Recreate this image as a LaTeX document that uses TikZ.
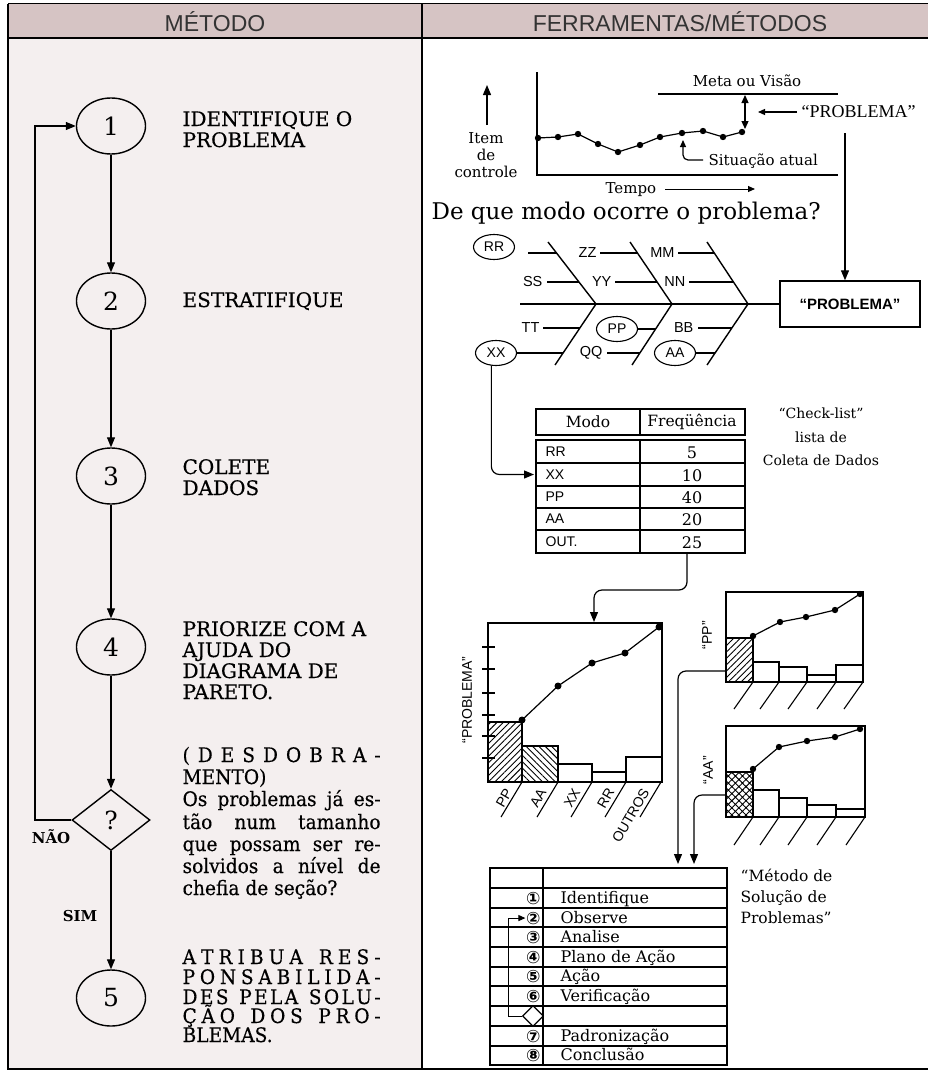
\documentclass[tikz,border=0pt]{standalone}
\usepackage{fontspec}
\setmainfont{DejaVu Serif}
\newfontfamily\sansf{Liberation Sans}
\newfontfamily\timesf{Liberation Serif}
\newfontfamily\dvs{DejaVu Sans}
\newfontfamily\lfont[FakeBold=0.4]{DejaVu Serif}
\newfontfamily\lpfont[FakeBold=0.4,FakeStretch=0.93]{DejaVu Serif}
\usetikzlibrary{arrows.meta,patterns,patterns.meta,shapes.geometric}
\definecolor{hdr}{RGB}{214,196,196}
\definecolor{lbg}{RGB}{244,239,239}
\makeatletter
\newcommand\spreadw[2]{\makebox[#1][s]{\sp@r#2\@nil}}
\def\sp@r#1#2\@nil{#1\if\relax\detokenize{#2}\relax\else\hfil\sp@r#2\@nil\fi}
\makeatother
\newcommand\fs[1]{\fontsize{#1}{#1}\selectfont}
\begin{document}
\begin{tikzpicture}[x=1pt,y=-1pt,line width=1.2pt,
  every node/.style={inner sep=0pt},
  >={Triangle[length=10pt,width=8pt]},
  stepc/.style={ellipse,draw,line width=1.4pt,minimum width=69pt,minimum height=56pt,font=\fs{25}},
  lt/.style={anchor=base west,font=\lfont\fs{20}},
  lp/.style={anchor=base west,font=\lpfont\fs{20}},
  fbl/.style={anchor=east,font=\sansf\fs{14.5}},
  fbc/.style={ellipse,draw,line width=1.1pt,minimum width=41pt,minimum height=25pt,font=\sansf\fs{14}},
  cs/.style={font=\fs{15}},
  tb/.style={line width=1.4pt},
  smallarr/.style={-{Triangle[length=7pt,width=6pt]}},
  plab/.style={anchor=east,rotate=60,font=\sansf\fs{14}},
  ylab/.style={rotate=90,font=\sansf\fs{14}},
  slant/.style={line width=1.1pt}
]
\path[use as bounding box] (0,0) rectangle (928,1073);
\fill[white] (0,0) rectangle (928,1073);
\fill[lbg] (8,38) rectangle (422,1069);
\fill[hdr] (8,4) rectangle (928,38);
\draw[line width=1pt] (8,4) -- (928,4);
\draw[line width=1.8pt] (8,38) -- (928,38);
\draw[line width=1.2pt] (8,4) -- (8,1069) -- (928,1069);
\draw[line width=1.4pt] (422,4) -- (422,1069);
\node[font=\sansf\fs{23},text=black!80] (hm) at (215,22) {MÉTODO};
\node[font=\sansf\fs{23},text=black!80] (hf) at (680,22) {FERRAMENTAS/MÉTODOS};

% ---------------- left column
\node[stepc] (c1) at (111,126) {1};
\node[stepc] (c2) at (111,301) {2};
\node[stepc] (c3) at (111,476) {3};
\node[stepc] (c4) at (111,647) {4};
\node[diamond,draw,line width=1.4pt,minimum width=78pt,minimum height=61pt,font=\fs{25}] (dq) at (111,820) {?};
\node[stepc] (c5) at (111,998) {5};
\draw[->] (c1) -- (c2);
\draw[->] (c2) -- (c3);
\draw[->] (c3) -- (c4);
\draw[->] (c4) -- (dq);
\draw[->] (dq) -- (c5);
\coordinate (fbk) at (35,820);
\draw[->] (dq.west) -- (fbk) |- (c1.west);
\node[font=\bfseries\fs{15}] (nao) at (51,837) {NÃO};
\node[font=\bfseries\fs{15}] (sim) at (80,916) {SIM};

\node[lt] (t1a) at (182,126) {IDENTIFIQUE O};
\node[lt] (t1b) at (182,147) {PROBLEMA};
\node[lt] (t2) at (182,307) {ESTRATIFIQUE};
\node[lt] (t3a) at (182,474) {COLETE};
\node[lt] (t3b) at (182,495) {DADOS};
\node[lt] (t4a) at (182,636) {PRIORIZE COM A};
\node[lt] (t4b) at (182,657) {AJUDA DO};
\node[lt] (t4c) at (182,678) {DIAGRAMA DE};
\node[lt] (t4d) at (182,699) {PARETO.};
\node[lp] (t5a) at (182,762) {\spreadw{198pt}{(DESDOBRA-}};
\node[lp] (t5b) at (182,784) {MENTO)};
\node[lp] (t5c) at (182,806) {\makebox[198pt][s]{Os problemas já es-}};
\node[lp] (t5d) at (182,829) {\makebox[198pt][s]{tão num tamanho}};
\node[lp] (t5e) at (182,851) {\makebox[198pt][s]{que possam ser re-}};
\node[lp] (t5f) at (182,873) {\makebox[198pt][s]{solvidos a nível de}};
\node[lp] (t5g) at (182,895) {chefia de seção?};
\node[lp] (t6a) at (182,964) {\spreadw{198pt}{ATRIBUA~RES-}};
\node[lp] (t6b) at (182,984) {\spreadw{198pt}{PONSABILIDA-}};
\node[lp] (t6c) at (182,1004) {\spreadw{198pt}{DES~PELA~SOLU-}};
\node[lp] (t6d) at (182,1023) {\spreadw{198pt}{ÇÃO~DOS~PRO-}};
\node[lp] (t6e) at (182,1042) {BLEMAS.};

% ---------------- control chart
\coordinate (ya0) at (537,72);
\coordinate (orig) at (537,175);
\coordinate (xa1) at (838,175);
\draw (ya0) -- (orig) -- (xa1);
\coordinate (up0) at (487,125);
\coordinate (up1) at (487,85);
\draw[->] (up0) -- (up1);
\node[cs,anchor=base] (it1) at (486,143) {Item};
\node[cs,anchor=base] (it2) at (486,160) {de};
\node[cs,anchor=base] (it3) at (486,177) {controle};
\coordinate (m0) at (658,94);
\coordinate (m1) at (838,94);
\draw (m0) -- (m1);
\node[cs,anchor=base] (meta) at (747,86) {Meta ou Visão};
\coordinate (da0) at (745,95);
\coordinate (da1) at (745,129);
\draw[{Triangle[length=8pt,width=7pt]}-{Triangle[length=8pt,width=7pt]}] (da0) -- (da1);
\node[font=\timesf\fs{18},anchor=west] (prob) at (801,112) {“PROBLEMA”};
\coordinate (pa0) at (797,112);
\coordinate (pa1) at (758,112);
\draw[smallarr] (pa0) -- (pa1);
\draw (538,138) -- (558,137) -- (578,134) -- (598,144) -- (618,152) -- (640,145) -- (660,137) -- (682,133) -- (703,131) -- (723,137) -- (742,132);
\foreach \p in {(538,138),(558,137),(578,134),(598,144),(618,152),(640,145),(660,137),(682,133),(703,131),(723,137),(742,132)}
  \fill \p circle (3.2pt);
\coordinate (h0) at (703,160);
\coordinate (h1) at (683,140);
\draw[smallarr,rounded corners=5pt] (h0) -- (683,160) -- (h1);
\node[cs,anchor=base west] (sit) at (708,165) {Situação atual};
\node[cs,anchor=base west] (tempo) at (605,193) {Tempo};
\coordinate (ta0) at (665,189);
\coordinate (ta1) at (755,189);
\draw[smallarr,line width=1pt] (ta0) -- (ta1);
\node[font=\fs{23},anchor=base west] (q) at (431,219) {De que modo ocorre o problema?};

% ---------------- fishbone
\node[draw,line width=1.4pt,minimum width=140pt,minimum height=46pt,font=\sansf\bfseries\fs{15}] (box) at (850,304) {“PROBLEMA”};
\coordinate (pb0) at (845,133);
\draw[->] (pb0) -- (pb0 |- box.north);
\coordinate (sp0) at (520,304);
\draw[line width=1.4pt] (sp0) -- (box.west);
\draw[line width=1.4pt] (548,242) -- (596,304) -- (555,365);
\draw[line width=1.4pt] (630,242) -- (672,304) -- (632,365);
\draw[line width=1.4pt] (707,242) -- (748,304) -- (707,365);
\node[fbc] (RR) at (494,247) {RR};
\draw (528,253) -- (556.5,253);
\node[fbl] (SS) at (543,282) {SS};
\draw (SS.east) ++(4,0) -- (579,282);
\node[fbl] (ZZ) at (597,253) {ZZ};
\draw (ZZ.east) ++(3,0) -- (637.5,253);
\node[fbl] (YY) at (612,282) {YY};
\draw (YY.east) ++(3,0) -- (657,282);
\node[fbl] (MM) at (675,253) {MM};
\draw (MM.east) ++(3,0) -- (714,253);
\node[fbl] (NN) at (686,282) {NN};
\draw (NN.east) ++(3,0) -- (733,282);
\node[fbl] (TT) at (540,328) {TT};
\draw (TT.east) ++(3,0) -- (580,328);
\node[fbc] (XX) at (496,353) {XX};
\draw (XX.east) -- (563,353);
\node[fbc] (PP) at (617,329) {PP};
\draw (PP.east) -- (656,329);
\node[fbl] (QQ) at (603,353) {QQ};
\draw (QQ.east) ++(4,0) -- (640,353);
\node[fbl] (BB) at (694,328) {BB};
\draw (BB.east) ++(4,0) -- (732,328);
\node[fbc] (AA) at (675,353) {AA};
\draw (AA.east) -- (715,353);

% ---------------- check list table
\draw[tb] (536,409) rectangle (745,435);
\draw[tb] (640,409) -- (640,435);
\draw[tb] (536,440) rectangle (745,553);
\draw (640,440) -- (640,553);
\foreach \y in {463,486,508,530} \draw (536,\y) -- (745,\y);
\node[font=\fs{15.5}] (hmodo) at (588,422) {Modo};
\node[font=\fs{15.5}] (hfreq) at (692,422) {Freqüência};
\node[font=\sansf\fs{14},anchor=west] (rRR) at (545,451.5) {RR};
\node[font=\sansf\fs{14},anchor=west] (rXX) at (545,474.5) {XX};
\node[font=\sansf\fs{14},anchor=west] (rPP) at (545,497) {PP};
\node[font=\sansf\fs{14},anchor=west] (rAA) at (545,519) {AA};
\node[font=\sansf\fs{14},anchor=west] (rOU) at (545,541.5) {OUT.};
\node[font=\fs{16},anchor=base] (vRR) at (692,458) {5};
\node[font=\fs{16},anchor=base] (vXX) at (692,481) {10};
\node[font=\fs{16},anchor=base] (vPP) at (692,503.5) {40};
\node[font=\fs{16},anchor=base] (vAA) at (692,525.5) {20};
\node[font=\fs{16},anchor=base] (vOU) at (692,548) {25};
\coordinate (tx) at (534,474.5);
\draw[->,rounded corners=8pt] (XX.250) |- (tx);
\node[font=\fs{14},anchor=base] (ck1) at (821,418) {“Check-list”};
\node[font=\fs{14},anchor=base] (ck2) at (821,442) {lista de};
\node[font=\fs{14},anchor=base] (ck3) at (821,465) {Coleta de Dados};

% ---------------- big pareto
\coordinate (t25) at (687,553);
\coordinate (pt0) at (594,622);
\draw[->,rounded corners=8pt] (t25) -- (687,590) -- (594,590) -- (pt0);
\draw (488,623) rectangle (662,782);
\foreach \y in {647,669,693,715,736,758} \draw (482,\y) -- (495,\y);
\draw[pattern={Lines[angle=45,distance=4.5pt,line width=0.9pt]}] (488,722) rectangle (522,782);
\draw[pattern={Lines[angle=-45,distance=4.5pt,line width=0.9pt]}] (522,746) rectangle (558,782);
\draw (558,764) rectangle (592,782);
\draw (592,772) rectangle (626,782);
\draw (626,757) rectangle (662,782);
\draw (522,720) -- (558,686) -- (592,663) -- (625,653) -- (659,627);
\foreach \p in {(522,720),(558,686),(592,663),(625,653),(659,627)} \fill \p circle (3.5pt);
\foreach \x in {522,558,592,626,661} \draw[slant] (\x,782) -- (\x-21,817);
\node[plab] (lPP) at (509,789) {PP};
\node[plab] (lAA) at (543,789) {AA};
\node[plab] (lXX) at (577,789) {XX};
\node[plab] (lRR) at (611,789) {RR};
\node[plab] (lOU) at (646,789) {OUTROS};
\node[ylab] (lprob) at (467,700) {“PROBLEMA”};

% ---------------- small pareto PP
\draw (726,592) rectangle (863,682);
\draw[pattern={Lines[angle=45,distance=4.5pt,line width=0.9pt]}] (726,638) rectangle (753,682);
\draw (753,662) rectangle (779,682);
\draw (779,667) rectangle (807,682);
\draw (807,675) rectangle (836,682);
\draw (836,665) rectangle (863,682);
\draw (753,636) -- (780,622) -- (806,617) -- (835,610) -- (860,594);
\foreach \p in {(753,636),(780,622),(806,617),(835,610),(860,594)} \fill \p circle (3.2pt);
\foreach \x in {753,779,807,836,863} \draw[slant] (\x,682) -- (\x-19,709);
\node[ylab] (lpp) at (707,635) {“PP”};

% ---------------- small pareto AA
\draw (726,726) rectangle (865,817);
\draw[pattern={Hatch[angle=45,distance=5pt,line width=0.9pt]}] (726,772) rectangle (753,817);
\draw (753,790) rectangle (779,817);
\draw (779,798) rectangle (807,817);
\draw (807,805) rectangle (836,817);
\draw (836,809) rectangle (865,817);
\draw (753,769) -- (779,747) -- (807,741) -- (835,737) -- (860,729);
\foreach \p in {(753,769),(779,747),(807,741),(835,737),(860,729)} \fill \p circle (3.2pt);
\foreach \x in {753,779,807,836,865} \draw[slant] (\x,817) -- (\x-19,845);
\node[ylab] (laa) at (708,770) {“AA”};

\coordinate (ppL) at (726,671);
\coordinate (ppE) at (678,864);
\draw[->,rounded corners=8pt] (ppL) -| (ppE);
\coordinate (aaL) at (726,795);
\coordinate (aaE) at (694,864);
\draw[->,rounded corners=8pt] (aaL) -| (aaE);

% ---------------- method table
\draw[tb] (490,868) rectangle (727,1065);
\draw[tb] (543,868) -- (543,1065);
\foreach \y in {888,908,927,947,967,986,1006,1026,1046} \draw (490,\y) -- (727,\y);
\node[font=\dvs\bfseries\fs{17},anchor=base east] (n1) at (541,904) {①};
\node[font=\dvs\bfseries\fs{17},anchor=base east] (n2) at (541,924) {②};
\node[font=\dvs\bfseries\fs{17},anchor=base east] (n3) at (541,943) {③};
\node[font=\dvs\bfseries\fs{17},anchor=base east] (n4) at (541,963) {④};
\node[font=\dvs\bfseries\fs{17},anchor=base east] (n5) at (541,982.5) {⑤};
\node[font=\dvs\bfseries\fs{17},anchor=base east] (n6) at (541,1002) {⑥};
\node[font=\dvs\bfseries\fs{17},anchor=base east] (n7) at (541,1042) {⑦};
\node[font=\dvs\bfseries\fs{17},anchor=base east] (n8) at (541,1061.5) {⑧};
\node[font=\fs{16},anchor=base west] (s1) at (560,903) {Identifique};
\node[font=\fs{16},anchor=base west] (s2) at (560,923) {Observe};
\node[font=\fs{16},anchor=base west] (s3) at (560,942) {Analise};
\node[font=\fs{16},anchor=base west] (s4) at (560,962) {Plano de Ação};
\node[font=\fs{16},anchor=base west] (s5) at (560,981.5) {Ação};
\node[font=\fs{16},anchor=base west] (s6) at (560,1001) {Verificação};
\node[font=\fs{16},anchor=base west] (s7) at (560,1041) {Padronização};
\node[font=\fs{16},anchor=base west] (s8) at (560,1060.5) {Conclusão};
\node[diamond,draw,line width=1.2pt,fill=white,minimum width=21pt,minimum height=21pt] (sd) at (533,1016) {};
\coordinate (lpc) at (508,1016);
\draw[smallarr,line width=1pt] (sd.west) -- (lpc) |- (n2.west);
\node[font=\fs{15.5},anchor=base west] (mt1) at (740,881) {“Método de};
\node[font=\fs{15.5},anchor=base west] (mt2) at (740,902) {Solução de};
\node[font=\fs{15.5},anchor=base west] (mt3) at (740,923) {Problemas”};
\end{tikzpicture}
\end{document}
